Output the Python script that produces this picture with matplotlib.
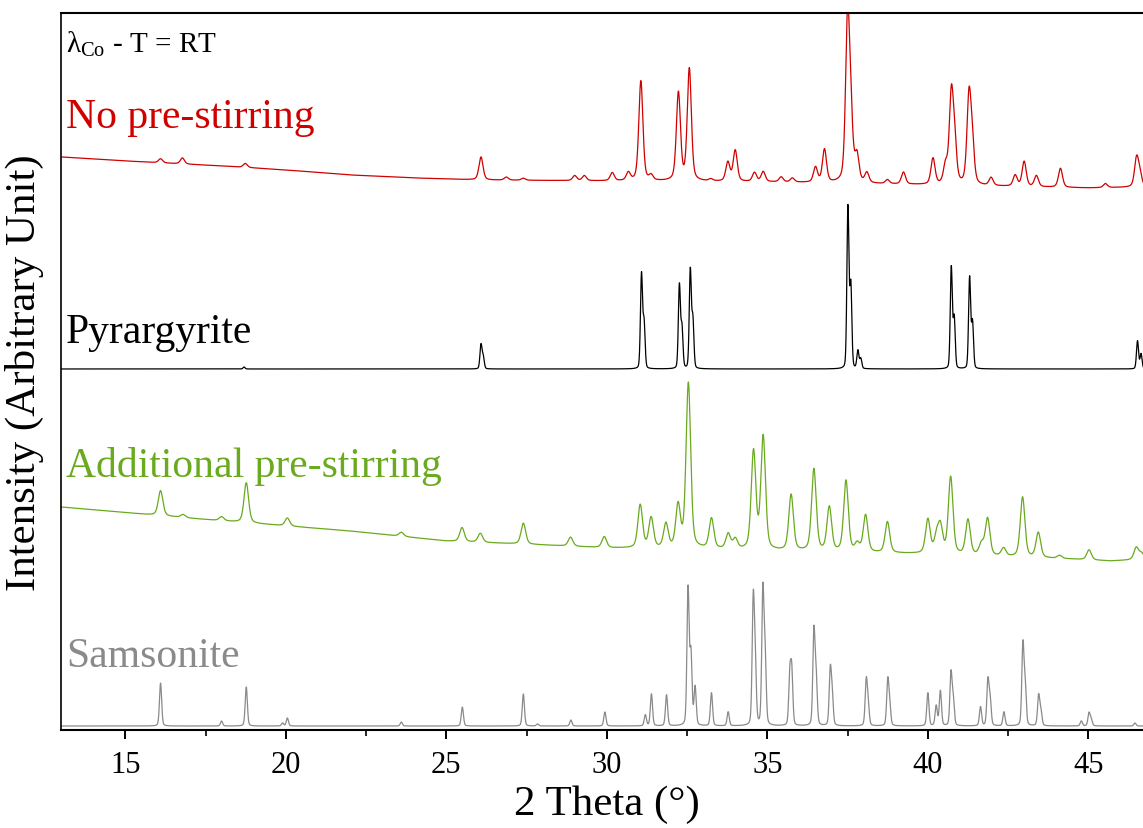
import numpy as np
import matplotlib
matplotlib.use('Agg')
import matplotlib.pyplot as plt
from matplotlib.ticker import MultipleLocator

plt.rcParams['font.family'] = ['Liberation Serif', 'DejaVu Serif']
plt.rcParams['mathtext.fontset'] = 'custom'
plt.rcParams['mathtext.rm'] = 'Liberation Serif'

# peak positions (2 theta) and heights, plus background levels
# --- No pre-stirring (measured)
red_bg_x = [13, 15, 18, 20, 22, 24, 26, 30, 35, 40, 45, 47]
red_bg_y = [573, 569, 564, 560, 555, 552, 550, 549, 548, 545, 542, 543]
red_pos = [16.1, 16.78, 18.74, 26.08, 26.87, 27.4, 29.0, 29.3, 30.17, 30.67, 31.06, 31.38,
           32.23, 32.57, 33.24, 33.77, 34.0, 34.6, 34.87, 35.43, 35.78, 36.5, 36.78, 37.5,
           37.6, 37.79, 38.1, 38.74, 39.24, 40.16, 40.55, 40.73, 40.83, 41.28, 41.38, 41.97,
           42.72, 43.0, 43.38, 44.13, 45.53, 46.5, 46.6]
red_h = [4, 6, 4, 23, 3, 2, 5, 5, 8, 8, 100, 5,
         88, 112, 2, 19, 31, 9, 10, 5, 4, 15, 33, 160,
         55, 26, 10, 4, 12, 26, 18, 86, 38, 85, 38, 8,
         11, 25, 11, 19, 4, 28, 12]

# --- Pyrargyrite (reference)
blk_bg = 361
blk_pos = [18.7, 26.08, 26.15, 31.08, 31.16, 32.26, 32.34, 32.6, 32.68, 37.51, 37.6,
           37.82, 37.91, 40.73, 40.82, 41.3, 41.39, 46.53, 46.64]
blk_h = [2, 24, 12, 94, 45, 83, 40, 98, 48, 161, 82,
         18, 10, 101, 50, 91, 46, 28, 15]

# --- Additional pre-stirring (measured)
grn_bg_x = [13, 17.3, 22, 25, 28, 30, 33, 35, 37, 40, 44.4, 45.7, 47]
grn_bg_y = [223, 211, 199, 189, 185, 182, 181, 179, 178, 176, 171, 169, 171]
grn_pos = [16.1, 16.8, 18.0, 18.77, 20.05, 23.6, 25.49, 26.06, 27.4, 28.87, 29.92, 31.04,
           31.38, 31.84, 32.22, 32.54, 33.26, 33.78, 34.0, 34.57, 34.87, 35.74, 36.45, 36.93,
           37.45, 37.8, 38.06, 38.74, 40.0, 40.27, 40.39, 40.71, 41.25, 41.67, 41.86, 42.36,
           42.95, 43.44, 44.1, 45.02, 46.49, 46.65]
grn_h = [25, 3, 4, 40, 8, 4, 14, 9, 21, 9, 11, 43,
         30, 24, 42, 165, 30, 15, 10, 98, 113, 56, 82, 44,
         71, 8, 37, 31, 34, 16, 26, 77, 35, 11, 37, 8,
         60, 25, 3, 10, 12, 6]

# --- Samsonite (reference)
gry_bg = 4
gry_pos = [16.1, 18.0, 18.77, 19.9, 20.05, 23.6, 25.5, 27.4, 27.84, 28.88, 29.94, 31.2,
           31.39, 31.86, 32.53, 32.62, 32.75, 33.26, 33.78, 34.56, 34.62, 34.86, 34.93, 35.7,
           35.76, 36.45, 36.52, 36.96, 37.02, 38.08, 38.14, 38.75, 38.81, 40.0, 40.26, 40.39,
           40.72, 40.79, 41.64, 41.87, 41.94, 42.37, 42.96, 43.03, 43.45, 43.52, 44.78, 45.02,
           45.09, 46.45]
gry_h = [43, 5, 39, 3, 8, 4, 19, 32, 2, 6, 14, 11,
         32, 31, 136, 70, 38, 33, 14, 120, 60, 132, 66, 48,
         52, 93, 46, 54, 28, 44, 20, 44, 20, 33, 20, 35,
         52, 25, 19, 45, 25, 14, 80, 38, 30, 14, 5, 13,
         6, 3]

tt = np.linspace(13, 47, 8000)


def profile(pos, hgt, fwhm, eta):
    y = np.zeros_like(tt)
    for p, h in zip(pos, hgt):
        d = (tt - p) / (fwhm / 2)
        y += h * (eta / (1 + d**2) + (1 - eta) * np.exp(-np.log(2) * d**2))
    return y


fig = plt.figure(figsize=(11.43, 8.29), dpi=100)
ax = fig.add_axes([0.0534, 0.1182, 0.955, 0.865])

ax.plot(tt, np.interp(tt, red_bg_x, red_bg_y) + profile(red_pos, red_h, 0.15, 0.4),
        color='#D00000', lw=0.9)
ax.plot(tt, blk_bg + profile(blk_pos, blk_h, 0.075, 0.2), color='black', lw=0.9)
ax.plot(tt, np.interp(tt, grn_bg_x, grn_bg_y) + profile(grn_pos, grn_h, 0.17, 0.4),
        color='#6AAA1E', lw=0.9)
ax.plot(tt, gry_bg + profile(gry_pos, gry_h, 0.08, 0.25), color='#8A8A8A', lw=0.9)

ax.text(13.15, 679, r'λ$_{\mathregular{Co}}$ - T = RT', fontsize=21, va='baseline')
ax.text(13.15, 603, 'No pre-stirring', fontsize=30, color='#D00000', va='baseline')
ax.text(13.15, 388, 'Pyrargyrite', fontsize=30, color='black', va='baseline')
ax.text(13.15, 254, 'Additional pre-stirring', fontsize=30, color='#6AAA1E', va='baseline')
ax.text(13.15, 64, 'Samsonite', fontsize=30, color='#8A8A8A', va='baseline')

ax.set_xlim(13, 47)
ax.set_ylim(0, 717)
ax.set_yticks([])
ax.xaxis.set_major_locator(MultipleLocator(5))
ax.xaxis.set_minor_locator(MultipleLocator(2.5))
ax.tick_params(axis='x', which='major', direction='out', length=6.5, width=1.4,
               labelsize=22, pad=8)
ax.tick_params(axis='x', which='minor', direction='out', length=4.3, width=1.2)
for s in ['bottom', 'top']:
    ax.spines[s].set_linewidth(1.5)
ax.spines['left'].set_linewidth(1.2)

ax.set_xlabel('2 Theta (°)', fontsize=31, labelpad=4)
ax.set_ylabel('Intensity (Arbitrary Unit)', fontsize=31, labelpad=12)

fig.savefig('out.png', dpi=100)
